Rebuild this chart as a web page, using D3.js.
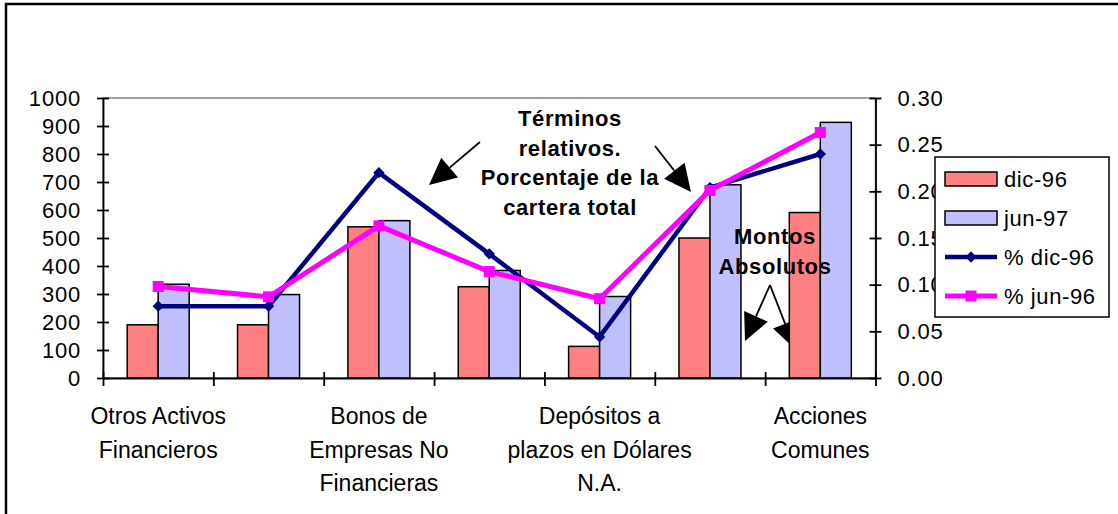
<!DOCTYPE html>
<html>
<head>
<meta charset="utf-8">
<script src="https://cdn.jsdelivr.net/npm/d3@7"></script>
<style>
  body { margin: 0; background: #fff; }
  svg { display: block; font-family: "Liberation Sans", Arial, sans-serif; }
</style>
</head>
<body>
<div id="chart"></div>
<script>
// categories (every second label is hidden in the original chart)
const categories = ["Otros Activos\nFinancieros", "", "Bonos de\nEmpresas No\nFinancieras", "",
                    "Depósitos a\nplazos en Dólares\nN.A.", "", "Acciones\nComunes"];
const barSeries = ["dic-96", "jun-97"];
const montoDic96 = [190, 190, 540, 326, 113, 500, 591];
const montoJun97 = [335, 298, 562, 384, 291, 690, 913];
const lineSeries = ["% dic-96", "% jun-96"];
const pctDic96 = [0.077, 0.077, 0.220, 0.133, 0.044, 0.204, 0.240];
const pctJun96 = [0.098, 0.087, 0.163, 0.114, 0.085, 0.201, 0.263];
const leftTicks = d3.range(0, 1001, 100);
const rightTicks = [0, 0.05, 0.10, 0.15, 0.20, 0.25, 0.30];

const W = 1118, H = 514;
const plot = {left: 103, right: 875.5, top: 98, bottom: 378};
const barColors = ["#ff8080", "#c0c0ff"];
const lineColors = ["#000080", "#ff00ff"];

const svg = d3.select("#chart").append("svg").attr("width", W).attr("height", H);

// outer chart border (only top/left visible)
svg.append("path").attr("d", `M6,${H} V4 H${W}`)
   .attr("fill", "none").attr("stroke", "#000").attr("stroke-width", 2.5);

const x = d3.scaleBand().domain(d3.range(categories.length)).range([plot.left, plot.right]);
const xEdge = d3.scaleLinear().domain([0, categories.length]).range([plot.left, plot.right]);
const xSub = d3.scaleBand().domain(barSeries).range([-31, 31]);
const yL = d3.scaleLinear().domain([0, 1000]).range([plot.bottom, plot.top]);
const yR = d3.scaleLinear().domain([0, 0.30]).range([plot.bottom, plot.top]);
const cx = i => x(i) + x.bandwidth() / 2;

// plot area border (gray)
svg.append("rect")
   .attr("x", plot.left).attr("y", plot.top)
   .attr("width", plot.right - plot.left).attr("height", plot.bottom - plot.top)
   .attr("fill", "none").attr("stroke", "#808080").attr("stroke-width", 1.5);

// arrow helper
function arrow(g, x1, y1, x2, y2, len = 27, half = 13) {
  const dx = x2 - x1, dy = y2 - y1, d = Math.hypot(dx, dy);
  const ux = dx / d, uy = dy / d;
  const bx = x2 - ux * len, by = y2 - uy * len;
  g.append("line").attr("x1", x1).attr("y1", y1).attr("x2", bx).attr("y2", by)
   .attr("stroke", "#000").attr("stroke-width", 1.8);
  g.append("polygon")
   .attr("points", [[x2, y2], [bx - uy * half, by + ux * half], [bx + uy * half, by - ux * half]].join(" "))
   .attr("fill", "#000");
}

// "Montos Absolutos" arrows sit beneath the bars
const under = svg.append("g");
arrow(under, 770, 285, 745, 341);
arrow(under, 770, 285, 795, 349);

// bars
const barData = [montoDic96, montoJun97];
barData.forEach((vals, s) => {
  svg.append("g").selectAll("rect").data(vals).join("rect")
     .attr("x", (d, i) => cx(i) + xSub(barSeries[s]))
     .attr("y", d => yL(d))
     .attr("width", xSub.bandwidth())
     .attr("height", d => yL(0) - yL(d))
     .attr("fill", barColors[s])
     .attr("stroke", "#000").attr("stroke-width", 1.5);
});

// lines
const lineGen = d3.line().x((d, i) => cx(i)).y(d => yR(d));
const lineData = [pctDic96, pctJun96];
const lineWidths = [4.5, 5];
const markers = [d3.symbol(d3.symbolSquare, 64), d3.symbol(d3.symbolSquare, 121)];
const markerRot = [45, 0];
lineData.forEach((vals, s) => {
  svg.append("path").attr("d", lineGen(vals))
     .attr("fill", "none").attr("stroke", lineColors[s])
     .attr("stroke-width", lineWidths[s]).attr("stroke-linejoin", "miter");
  svg.append("g").selectAll("path").data(vals).join("path")
     .attr("d", markers[s])
     .attr("transform", (d, i) => `translate(${cx(i)},${yR(d)}) rotate(${markerRot[s]})`)
     .attr("fill", lineColors[s]);
});

// axes
function styleAxis(g, size) {
  g.attr("font-family", null).attr("font-size", size).attr("letter-spacing", 0.8);
  g.selectAll("text").attr("fill", "#000");
  g.selectAll("line,path").attr("stroke", "#000").attr("stroke-width", 1.8);
}
const axL = svg.append("g").attr("transform", `translate(${plot.left},0)`)
  .call(d3.axisLeft(yL).tickValues(leftTicks).tickFormat(d3.format("d"))
        .tickSize(6).tickSizeOuter(0).tickPadding(16));
axL.selectAll(".tick line").attr("x1", 6);
styleAxis(axL, 22);

const axR = svg.append("g").attr("transform", `translate(${plot.right},0)`)
  .call(d3.axisRight(yR).tickValues(rightTicks).tickFormat(d3.format(".2f"))
        .tickSize(6).tickSizeOuter(0).tickPadding(16));
axR.selectAll(".tick line").attr("x1", -6);
styleAxis(axR, 22);

const axB = svg.append("g").attr("transform", `translate(0,${plot.bottom})`)
  .call(d3.axisBottom(xEdge).tickValues(d3.range(categories.length + 1))
        .tickFormat("").tickSize(8).tickSizeOuter(0));
axB.selectAll(".tick line").attr("y1", -6);
styleAxis(axB, 22);

// category labels (multi-line)
const axLab = svg.append("g").attr("transform", `translate(0,${plot.bottom})`)
  .call(d3.axisBottom(x).tickFormat(i => "").tickSize(0));
axLab.select(".domain").remove();
axLab.attr("font-family", null).attr("font-size", 23);
axLab.selectAll(".tick text").each(function(i) {
  const t = d3.select(this).attr("y", 0).attr("dy", null).attr("fill", "#000");
  categories[i].split("\n").forEach((ln, k) => {
    if (ln) t.append("tspan").attr("x", 0).attr("y", 46 + k * 33.5).text(ln);
  });
});

// annotations
const ann = svg.append("g").attr("font-weight", "bold").attr("font-size", 22)
  .attr("letter-spacing", 0.6).attr("text-anchor", "middle");
["Términos", "relativos.", "Porcentaje de la", "cartera total"].forEach((t, k) => {
  ann.append("text").attr("x", 570).attr("y", 126 + k * 29.5).text(t);
});
["Montos", "Absolutos"].forEach((t, k) => {
  ann.append("text").attr("x", 775).attr("y", 244 + k * 29.5).text(t);
});
const over = svg.append("g");
arrow(over, 480, 142, 429, 185);
arrow(over, 655, 146, 691, 192);

// legend
const lg = svg.append("g").attr("transform", "translate(935,157)");
lg.append("rect").attr("width", 174).attr("height", 160)
  .attr("fill", "#fff").attr("stroke", "#000").attr("stroke-width", 1.5);
const rowY = k => 22 + k * 39;
barSeries.forEach((s, k) => {
  lg.append("rect").attr("x", 10).attr("y", rowY(k) - 7).attr("width", 52).attr("height", 14)
    .attr("fill", barColors[k]).attr("stroke", "#000").attr("stroke-width", 1.5);
});
lineSeries.forEach((s, k) => {
  const y = rowY(k + 2);
  lg.append("line").attr("x1", 10).attr("x2", 62).attr("y1", y).attr("y2", y)
    .attr("stroke", lineColors[k]).attr("stroke-width", lineWidths[k]);
  lg.append("path").attr("d", markers[k])
    .attr("transform", `translate(36,${y}) rotate(${markerRot[k]})`)
    .attr("fill", lineColors[k]);
});
barSeries.concat(lineSeries).forEach((s, k) => {
  lg.append("text").attr("x", 69).attr("y", rowY(k)).attr("dy", "0.36em")
    .attr("font-size", 22).attr("letter-spacing", 0.6).text(s);
});
</script>
</body>
</html>
